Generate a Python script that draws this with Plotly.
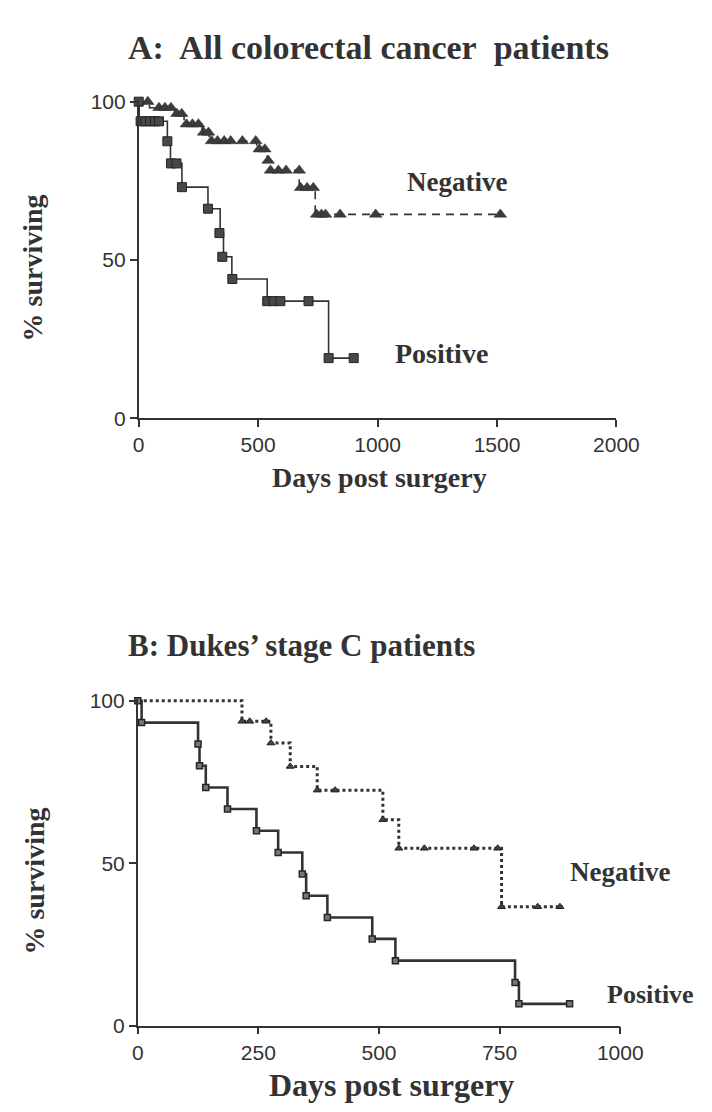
import plotly.graph_objects as go

# ---------------- Data ----------------
# Panel A: all colorectal cancer patients
A_pos_days = [0, 2, 120, 133, 181, 290, 341, 355, 390, 538, 795, 900]
A_pos_surv = [100, 93.8, 87.5, 80.5, 73.0, 66.2, 58.5, 51.0, 44.0, 37.0, 19.0, 19.0]
A_pos_mark_days = [0, 8, 28, 48, 68, 85, 120, 135, 158, 181, 290, 338, 350, 392, 538, 565, 593, 711, 795, 900]
A_pos_mark_surv = [100, 93.8, 93.8, 93.8, 93.8, 93.8, 87.5, 80.5, 80.5, 73.0, 66.2, 58.5, 51.0, 44.0,
                   37.0, 37.0, 37.0, 37.0, 19.0, 19.0]

A_neg_days = [0, 45, 150, 190, 265, 295, 494, 538, 545, 672, 739, 1514]
A_neg_surv = [100, 98.1, 96.2, 92.9, 90.3, 87.6, 85.0, 81.4, 78.3, 72.8, 64.4, 64.4]
A_neg_mark_days = [38, 85, 110, 135, 160, 180, 200, 225, 250, 272, 292, 305, 330, 358, 385, 434, 490,
                   505, 528, 542, 552, 585, 617, 672, 678, 705, 731, 745, 765, 782, 843, 992, 1514]
A_neg_mark_surv = [100, 98.1, 98.1, 98.1, 96.2, 96.2, 92.9, 92.9, 92.9, 90.3, 90.3, 87.6, 87.6, 87.6,
                   87.6, 87.6, 87.6, 85.0, 85.0, 81.4, 78.3, 78.3, 78.3, 78.3, 72.8, 72.8, 72.8,
                   64.4, 64.4, 64.4, 64.4, 64.4, 64.4]

# Panel B: Dukes' stage C patients
B_pos_days = [0, 8, 125, 128, 141, 186, 246, 291, 341, 349, 393, 486, 534, 782, 790, 895]
B_pos_surv = [100, 93.3, 86.7, 80.0, 73.3, 66.7, 60.0, 53.3, 46.7, 40.0, 33.3, 26.7, 20.0, 13.3, 6.7, 6.7]

B_neg_days = [0, 216, 276, 316, 372, 508, 541, 754, 881]
B_neg_surv = [100, 93.7, 87.0, 79.8, 72.5, 63.4, 54.6, 36.6, 36.6]
B_neg_mark_days = [216, 232, 266, 276, 316, 372, 409, 508, 541, 594, 697, 746, 754, 829, 875]
B_neg_mark_surv = [93.7, 93.7, 93.7, 87.0, 79.8, 72.5, 72.5, 63.4, 54.6, 54.6, 54.6, 54.6, 36.6, 36.6, 36.6]

A_xticks = [0, 500, 1000, 1500, 2000]
B_xticks = [0, 250, 500, 750, 1000]
y_ticks = [0, 50, 100]

TITLE_A = "A:\u00a0 All colorectal cancer\u00a0 patients"
TITLE_B = "B: Dukes\u2019 stage C patients"
X_TITLE = "Days post surgery"
Y_TITLE = "% surviving"

# ---------------- Figure ----------------
INK = "#333333"
SERIF = "Liberation Serif, Times New Roman, serif"
SANS = "Liberation Sans, Arial, sans-serif"

fig = go.Figure()

# Panel A lines
fig.add_trace(go.Scatter(x=A_pos_days, y=A_pos_surv, mode="lines", line_shape="hv",
                         line=dict(color=INK, width=1.6), xaxis="x", yaxis="y", showlegend=False))
fig.add_trace(go.Scatter(x=A_neg_days, y=A_neg_surv, mode="lines", line_shape="hv",
                         line=dict(color=INK, width=1.6, dash="8px,6px"), xaxis="x", yaxis="y",
                         showlegend=False))
fig.add_trace(go.Scatter(x=A_pos_mark_days, y=A_pos_mark_surv, mode="markers", cliponaxis=False,
                         marker=dict(symbol="square", size=9, color="#484848",
                                     line=dict(color="#222222", width=1)),
                         xaxis="x", yaxis="y", showlegend=False))
fig.add_trace(go.Scatter(x=A_neg_mark_days, y=A_neg_mark_surv, mode="markers", cliponaxis=False,
                         marker=dict(symbol="triangle-up", size=11, color="#3c3c3c",
                                     line=dict(color="#2a2a2a", width=0.5)),
                         xaxis="x", yaxis="y", showlegend=False))

# Panel B lines
fig.add_trace(go.Scatter(x=B_neg_days, y=B_neg_surv, mode="lines", line_shape="hv",
                         line=dict(color=INK, width=3, dash="dot"), xaxis="x2", yaxis="y2",
                         showlegend=False))
fig.add_trace(go.Scatter(x=B_pos_days, y=B_pos_surv, mode="lines+markers", line_shape="hv",
                         cliponaxis=False,
                         line=dict(color=INK, width=2.6),
                         marker=dict(symbol="square", size=6, color="#777777",
                                     line=dict(color="#262626", width=1.5)),
                         xaxis="x2", yaxis="y2", showlegend=False))
fig.add_trace(go.Scatter(x=B_neg_mark_days, y=B_neg_mark_surv, mode="markers", cliponaxis=False,
                         marker=dict(symbol="triangle-up", size=7, color="#444444",
                                     line=dict(color="#222222", width=1)),
                         xaxis="x2", yaxis="y2", showlegend=False))

axis_common = dict(showline=True, linecolor=INK, linewidth=1.6, ticks="outside", ticklen=7,
                   tickwidth=1.6, tickcolor=INK, showgrid=False, zeroline=False,
                   tickfont=dict(family=SANS, size=21, color=INK))

W, H = 712, 1112
fig.update_layout(
    width=W, height=H, margin=dict(l=0, r=0, t=0, b=0),
    paper_bgcolor="white", plot_bgcolor="white",
    xaxis=dict(domain=[130 / W, 628 / W], range=[0, 2000], anchor="y", tickvals=A_xticks,
               **axis_common),
    yaxis=dict(domain=[1 - 408 / H, 1 - 84 / H], range=[0, 100.4], anchor="x", tickvals=y_ticks,
               **axis_common),
    xaxis2=dict(domain=[129 / W, 632 / W], range=[0, 1000], anchor="y2", tickvals=B_xticks,
                **axis_common),
    yaxis2=dict(domain=[1 - 1027 / H, 1 - 694 / H], range=[0, 100.6], anchor="x2", tickvals=y_ticks,
                **axis_common),
)

def paper_text(text, x, y, size, angle=0):
    fig.add_annotation(text=text, x=x / W, y=1 - y / H, xref="paper", yref="paper",
                       showarrow=False, textangle=angle, xanchor="center", yanchor="middle",
                       font=dict(family=SERIF, size=size, color=INK, weight="bold"))

paper_text(TITLE_A, 370, 30, 34)
paper_text(TITLE_B, 300, 640, 31)
paper_text(X_TITLE, 381, 468, 28)
paper_text(X_TITLE, 394, 1088, 32)
paper_text(Y_TITLE, 19, 255, 28, angle=-90)
paper_text(Y_TITLE, 21, 880, 28, angle=-90)

# series labels
paper_text("Negative", 462, 167, 27)
paper_text("Positive", 446, 342, 28)
paper_text("Negative", 632, 870, 27)
paper_text("Positive", 664, 995, 26)

fig.write_html("out.html")
